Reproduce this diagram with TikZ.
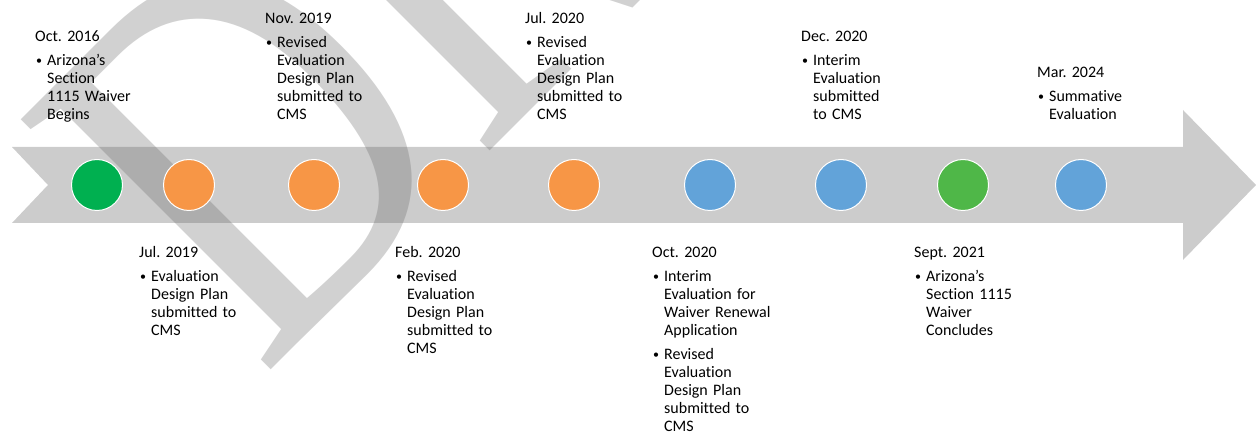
\documentclass[tikz,border=0pt]{standalone}
\usepackage{fontspec}
\setmainfont{Carlito}[Ligatures=NoCommon]
\newfontfamily\wmfont{Liberation Serif}
\usetikzlibrary{positioning}
\frenchspacing
\definecolor{bandgray}{HTML}{CCCCCC}
\definecolor{dkgreen}{HTML}{00B050}
\definecolor{ltgreen}{HTML}{4FB748}
\definecolor{orng}{HTML}{F79646}
\definecolor{skyblue}{HTML}{62A3D9}
\newcommand{\bul}{\par\vspace{6pt}\hangindent=12pt\hangafter=1\noindent\makebox[12pt][l]{\hspace{1pt}\raisebox{1pt}{\fontsize{12}{12}\selectfont\textbullet}}}
\tikzstyle{evt} = [circle, draw=white, line width=1pt, minimum size=51pt, inner sep=0pt]
\tikzstyle{lbl} = [anchor=base west, inner sep=0pt, text width=150pt, font=\fontsize{16}{18}\selectfont]
\tikzstyle{wm} = [anchor=base west, inner sep=0pt, rotate=45, xscale=0.79, text=black!60, text opacity=0.3, font=\wmfont\fontsize{540}{540}\selectfont]

\begin{document}
\begin{tikzpicture}[x=1pt,y=-1pt]
    \useasboundingbox (0,0) rectangle (1256,435);
    \fill[bandgray] (12,147) -- (1183,147) -- (1183,110) -- (1256,185) -- (1183,260)
        -- (1183,223) -- (12,223) -- (48,185) -- cycle;
    \node[wm] (draft) at (262,379) {DRAFT};
    \foreach \x/\c [count=\i] in {97/dkgreen,189/orng,314/orng,443/orng,574/orng,710/skyblue,841/skyblue,963/ltgreen,1081/skyblue}{
        \node[evt, fill=\c] (c\i) at (\x,185) {};
    }
    \node[lbl] (l1) at (35,42) {Oct. 2016\bul Arizona’s\newline Section\newline 1115 Waiver\newline Begins\par};
    \node[lbl] (l2) at (139,258) {Jul. 2019\bul Evaluation\newline Design Plan\newline submitted to\newline CMS\par};
    \node[lbl] (l3) at (265,24) {Nov. 2019\bul Revised\newline Evaluation\newline Design Plan\newline submitted to\newline CMS\par};
    \node[lbl] (l4) at (395,258) {Feb. 2020\bul Revised\newline Evaluation\newline Design Plan\newline submitted to\newline CMS\par};
    \node[lbl] (l5) at (525,24) {Jul. 2020\bul Revised\newline Evaluation\newline Design Plan\newline submitted to\newline CMS\par};
    \node[lbl] (l6) at (652,258) {Oct. 2020\bul Interim\newline Evaluation for\newline Waiver Renewal\newline Application\bul Revised\newline Evaluation\newline Design Plan\newline submitted to\newline CMS\par};
    \node[lbl] (l7) at (801,42) {Dec. 2020\bul Interim\newline Evaluation\newline submitted\newline to CMS\par};
    \node[lbl] (l8) at (914,258) {Sept. 2021\bul Arizona’s\newline Section 1115\newline Waiver\newline Concludes\par};
    \node[lbl] (l9) at (1037,78) {Mar. 2024\bul Summative\newline Evaluation\par};
\end{tikzpicture}
\end{document}
